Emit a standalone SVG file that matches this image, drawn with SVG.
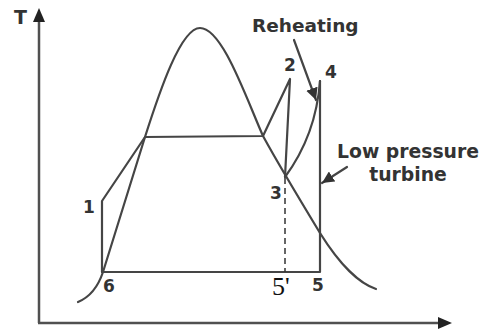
<svg xmlns="http://www.w3.org/2000/svg" width="483" height="334" viewBox="0 0 483 334">
<style>
.ln{fill:none;stroke:#454545;stroke-width:2.2;stroke-linejoin:round;stroke-linecap:round}
.ax{fill:none;stroke:#505050;stroke-width:2.5}
.lb{font-family:"DejaVu Sans",Verdana,sans-serif;font-weight:bold;fill:#333}
.num{font-size:17px}
</style>
<defs>
<marker id="ah" markerUnits="userSpaceOnUse" markerWidth="14" markerHeight="12" refX="12" refY="6" orient="auto">
<path d="M0,0 L12,6 L0,12 Z" fill="#333"/>
</marker>
</defs>
<rect width="483" height="334" fill="#fff"/>
<g id="axes">
<line class="ax" x1="39" y1="323" x2="39" y2="20"/>
<path d="M39,8 L45,22 L33,22 Z" fill="#222"/>
<line class="ax" x1="38" y1="323" x2="440" y2="323"/>
<path d="M452,323 L438,317 L438,329 Z" fill="#222"/>
<text class="lb" x="14" y="24" font-size="19">T</text>
</g>
<g id="dome">
<path class="ln" d="M78,302 C90,297 98,287 103,272 L145,137 C160,90 181,28 200,28 C222,28 245,95 263,136 C275,158 300,200 320,233 C340,265 360,284 376,289"/>
</g>
<g id="connectors">
<path class="ln" d="M102,272 L102,201 L145,137 L263,136 L290,79 L285,177"/>
<path class="ln" d="M285,177 Q316,135 320,81"/>
<path class="ln" d="M320,81 L320,272 L102,272"/>
<line x1="285" y1="178" x2="285" y2="272" stroke="#333" stroke-width="1.5" stroke-dasharray="6,4"/>
<line class="ln" x1="294" y1="40" x2="316" y2="100" marker-end="url(#ah)"/>
<line class="ln" x1="347" y1="167" x2="322" y2="183" marker-end="url(#ah)"/>
</g>
<g id="p1"><text class="lb num" x="83" y="213">1</text></g>
<g id="p2"><text class="lb num" x="284" y="71">2</text></g>
<g id="p3"><text class="lb num" x="270" y="199">3</text></g>
<g id="p4"><text class="lb num" x="325" y="78">4</text></g>
<g id="p5"><text class="lb num" x="312" y="291">5</text></g>
<g id="p5p"><text x="272" y="295" font-family="Liberation Serif,serif" font-size="26" fill="#111">5'</text></g>
<g id="p6"><text class="lb num" x="103" y="292">6</text></g>
<g id="reheating"><text class="lb" x="252" y="32" font-size="18.5">Reheating</text></g>
<g id="lpt">
<text class="lb" x="408" y="158" font-size="18.8" text-anchor="middle">Low pressure</text>
<text class="lb" x="408" y="181" font-size="18.8" text-anchor="middle">turbine</text>
</g>
</svg>
